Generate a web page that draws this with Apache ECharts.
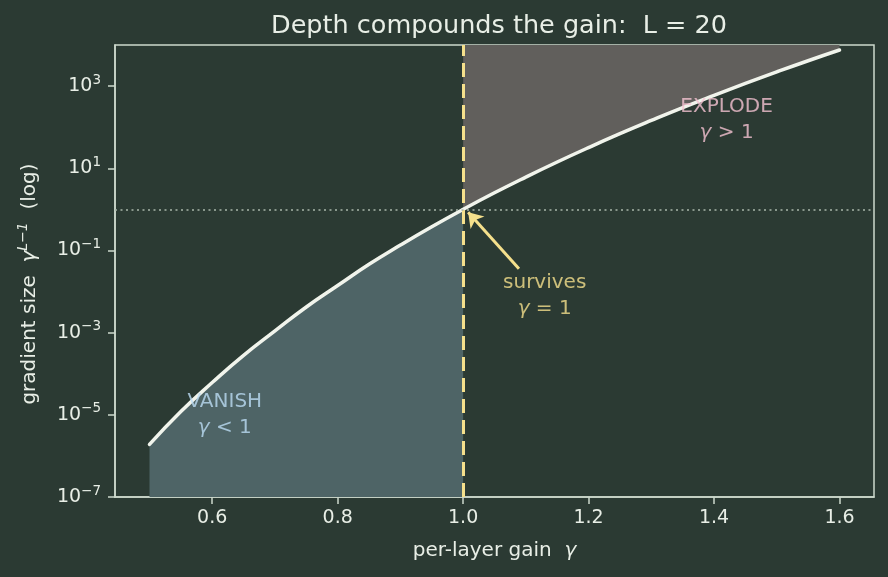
<!DOCTYPE html>
<html>
<head>
<meta charset="utf-8">
<script src="https://cdn.jsdelivr.net/npm/echarts@6/dist/echarts.min.js"></script>
<style>
html,body{margin:0;padding:0;background:#2b3a33;}
#chart{width:888px;height:577px;}
</style>
</head>
<body>
<div id="chart"></div>
<script>
// gain values (x) and gradient size values (y)
const gamma = [0.50,0.55,0.60,0.65,0.70,0.75,0.80,0.85,0.90,0.95,1.00,1.05,1.10,1.15,1.20,1.25,1.30,1.35,1.40,1.45,1.50,1.55,1.60];
const gradSize = [1.9e-6,1.2e-5,6.1e-5,2.8e-4,1.1e-3,4.2e-3,1.4e-2,4.6e-2,0.135,0.377,1.0,2.53,6.1,14.2,31.9,69.4,146,300,596,1161,2217,4143,7556];
const xTicks = [0.6,0.8,1.0,1.2,1.4,1.6];
const yTicks = [1e-7,1e-5,1e-3,1e-1,1e1,1e3];
const boundaryGamma = 1.0;
const unitLevel = 1.0;
const arrowFrom = [1.089, 0.036];
const arrowTo = [1.008, 0.85];
const notes = [
  {name:'vanish', pos:[0.62, 1e-5], word:'VANISH', rel:'<', color:'#bcdcf4'},
  {name:'explode', pos:[1.42, 150], word:'EXPLODE', rel:'>', color:'#f5c3d2'},
  {name:'survives', pos:[1.13, 0.008], word:'survives', rel:'=', color:'#f5e08c'}
];

const TXT = '#e8eee6';
const FONT = 'DejaVu Sans';
const lowPairs = [], highPairs = [], allPairs = [];
gamma.forEach((g,i)=>{
  allPairs.push([g, gradSize[i]]);
  if (g <= boundaryGamma) lowPairs.push([g, gradSize[i]]);
  if (g >= boundaryGamma) highPairs.push([g, gradSize[i]]);
});

const chart = echarts.init(document.getElementById('chart'), null, {renderer:'canvas'});
chart.setOption({
  backgroundColor:'#2b3a33',
  animation:false,
  textStyle:{fontFamily:FONT},
  title:{
    text:'Depth compounds the gain:  L = 20',
    left:494, textAlign:'center', top:8,
    textStyle:{color:TXT, fontSize:25.5, fontWeight:'normal', fontFamily:FONT}
  },
  grid:{left:115, right:14, top:45, bottom:80, show:true, borderColor:'#cdd9cd', borderWidth:1.5, backgroundColor:'transparent'},
  xAxis:{
    type:'value', min:0.445, max:1.655,
    name:'per-layer gain  {g|γ}', nameLocation:'middle', nameGap:44,
    nameTextStyle:{color:TXT, fontSize:20, fontFamily:FONT, rich:{g:{fontStyle:'italic', fontSize:20, color:TXT, fontFamily:FONT}}},
    axisLine:{show:true, lineStyle:{color:'#cdd9cd', width:1.5}},
    axisTick:{show:true, length:7, lineStyle:{color:'#cdd9cd', width:1.5}, customValues:xTicks},
    axisLabel:{color:TXT, fontSize:19, margin:12, fontFamily:FONT, customValues:xTicks, formatter:v=>v.toFixed(1)},
    splitLine:{show:false}
  },
  yAxis:{
    type:'log', logBase:10, min:1e-7, max:1e4,
    name:'{n|gradient size  }{g|γ}{s|L−1}{n|  (log)}', nameLocation:'middle', nameGap:72, nameRotate:90,
    nameTextStyle:{color:TXT, fontSize:20, fontFamily:FONT, padding:[0,26,0,0], rich:{
      n:{fontSize:20, color:TXT, fontFamily:FONT},
      g:{fontSize:20, color:TXT, fontFamily:FONT, fontStyle:'italic'},
      s:{fontSize:14, color:TXT, fontFamily:FONT, fontStyle:'italic', padding:[0,0,13,0]}
    }},
    axisLine:{show:true, lineStyle:{color:'#cdd9cd', width:1.5}},
    axisTick:{show:true, length:7, lineStyle:{color:'#cdd9cd', width:1.5}, customValues:yTicks},
    axisLabel:{color:TXT, margin:14, fontFamily:FONT, customValues:yTicks,
      formatter:v=>{const e=Math.round(Math.log10(v)); return '{b|10}{s|'+(e<0?'−':'')+Math.abs(e)+'}';},
      rich:{
        b:{fontSize:19, color:TXT, fontFamily:FONT},
        s:{fontSize:13.5, color:TXT, fontFamily:FONT, padding:[0,0,12,0]}
      }},
    splitLine:{show:false}
  },
  series:[
    {type:'line', name:'lowFill', data:lowPairs, smooth:true, symbol:'none', silent:true,
     lineStyle:{width:0}, areaStyle:{origin:'start', color:'#4e6466', opacity:1}, z:1},
    {type:'line', name:'highFill', data:highPairs, smooth:true, symbol:'none', silent:true,
     lineStyle:{width:0}, areaStyle:{origin:'end', color:'#615f5c', opacity:1}, z:1},
    {type:'line', name:'curve', data:allPairs, smooth:true, symbol:'none', silent:true,
     lineStyle:{color:'#f1f4ec', width:3.5, cap:'round'}, z:4,
     markLine:{silent:true, symbol:'none', label:{show:false}, animation:false,
       data:[
         {xAxis:boundaryGamma, lineStyle:{color:'#f5e08c', width:3, type:[14,7]}},
         {yAxis:unitLevel, lineStyle:{color:'#a9b6aa', width:1.5, type:[2,3.5]}}
       ]}
    },
    {type:'line', name:'arrow', data:[], silent:true, z:5,
     markLine:{silent:true, symbol:['none','arrow'], symbolSize:[14,14], label:{show:false}, animation:false,
       lineStyle:{color:'#f5e08c', width:3, type:'solid'},
       data:[[{coord:arrowFrom},{coord:arrowTo}]]}
    },
    {type:'scatter', name:'notes', symbolSize:0, silent:true, z:6,
     data:notes.map(n=>({value:n.pos, label:{show:true, position:'inside',
       formatter:'{w|'+n.word+'}\n{g|γ}{w| '+n.rel+' 1}',
       rich:{
         w:{color:n.color, fontSize:20, fontFamily:FONT, lineHeight:26, align:'center'},
         g:{color:n.color, fontSize:20, fontFamily:FONT, fontStyle:'italic', lineHeight:26}
       }}}))
    }
  ]
});
</script>
</body>
</html>
